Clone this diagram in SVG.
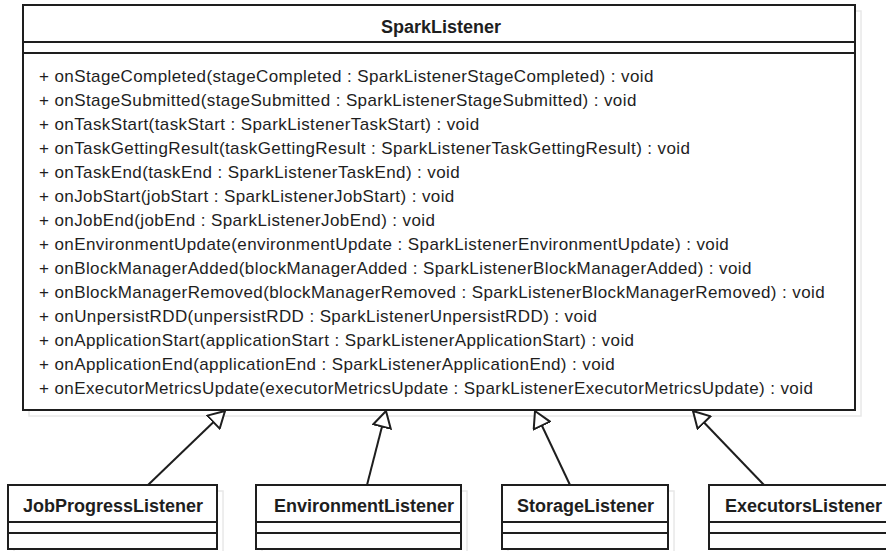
<svg xmlns="http://www.w3.org/2000/svg" width="886" height="551" viewBox="0 0 886 551">
  <style>
    .shadow { fill: none; stroke: #e8e8e8; stroke-width: 1.5; }
    .box { fill: #ffffff; stroke: #1e1e1e; stroke-width: 2; }
    .sep { stroke: #1e1e1e; stroke-width: 2; }
    .title { font-family: "Liberation Sans", Arial, sans-serif; font-weight: bold; font-size: 18px; fill: #1e1e1e; }
    .op { font-family: "Liberation Sans", Arial, sans-serif; font-size: 17px; letter-spacing: 0.4px; fill: #1e1e1e; }
    .edge { stroke: #1e1e1e; stroke-width: 2; fill: none; marker-end: url(#gen); }
  </style>
  <defs>
    <marker id="gen" viewBox="0 0 18 20" refX="17" refY="10" markerWidth="18" markerHeight="20" markerUnits="userSpaceOnUse" orient="auto">
      <path d="M1,1 L17,10 L1,19 Z" fill="#ffffff" stroke="#1e1e1e" stroke-width="2" stroke-linejoin="miter"/>
    </marker>
  </defs>
  <rect width="886" height="551" fill="#ffffff"/>

  <g id="SparkListener">
    <rect class="shadow" x="29" y="11" width="832" height="405"/>
    <rect class="box" x="23" y="5" width="832" height="405"/>
    <line class="sep" x1="23" y1="42" x2="855" y2="42"/>
    <line class="sep" x1="23" y1="53" x2="855" y2="53"/>
    <text class="title" x="441" y="32.5" text-anchor="middle">SparkListener</text>
    <text class="op" x="39" y="82">+ onStageCompleted(stageCompleted : SparkListenerStageCompleted) : void</text>
    <text class="op" x="39" y="106">+ onStageSubmitted(stageSubmitted : SparkListenerStageSubmitted) : void</text>
    <text class="op" x="39" y="130">+ onTaskStart(taskStart : SparkListenerTaskStart) : void</text>
    <text class="op" x="39" y="154">+ onTaskGettingResult(taskGettingResult : SparkListenerTaskGettingResult) : void</text>
    <text class="op" x="39" y="178">+ onTaskEnd(taskEnd : SparkListenerTaskEnd) : void</text>
    <text class="op" x="39" y="202">+ onJobStart(jobStart : SparkListenerJobStart) : void</text>
    <text class="op" x="39" y="226">+ onJobEnd(jobEnd : SparkListenerJobEnd) : void</text>
    <text class="op" x="39" y="250">+ onEnvironmentUpdate(environmentUpdate : SparkListenerEnvironmentUpdate) : void</text>
    <text class="op" x="39" y="274">+ onBlockManagerAdded(blockManagerAdded : SparkListenerBlockManagerAdded) : void</text>
    <text class="op" x="39" y="298">+ onBlockManagerRemoved(blockManagerRemoved : SparkListenerBlockManagerRemoved) : void</text>
    <text class="op" x="39" y="322">+ onUnpersistRDD(unpersistRDD : SparkListenerUnpersistRDD) : void</text>
    <text class="op" x="39" y="346">+ onApplicationStart(applicationStart : SparkListenerApplicationStart) : void</text>
    <text class="op" x="39" y="370">+ onApplicationEnd(applicationEnd : SparkListenerApplicationEnd) : void</text>
    <text class="op" x="39" y="394">+ onExecutorMetricsUpdate(executorMetricsUpdate : SparkListenerExecutorMetricsUpdate) : void</text>
  </g>

  <g id="JobProgressListener">
    <rect class="shadow" x="14" y="491" width="209" height="64"/>
    <rect class="box" x="8" y="485" width="209" height="64"/>
    <line class="sep" x1="8" y1="522" x2="217" y2="522"/>
    <line class="sep" x1="8" y1="533" x2="217" y2="533"/>
    <text class="title" x="23" y="512">JobProgressListener</text>
  </g>

  <g id="EnvironmentListener">
    <rect class="shadow" x="262" y="491" width="205" height="64"/>
    <rect class="box" x="256" y="485" width="205" height="64"/>
    <line class="sep" x1="256" y1="522" x2="461" y2="522"/>
    <line class="sep" x1="256" y1="533" x2="461" y2="533"/>
    <text class="title" x="274" y="512">EnvironmentListener</text>
  </g>

  <g id="StorageListener">
    <rect class="shadow" x="508" y="491" width="166" height="64"/>
    <rect class="box" x="502" y="485" width="166" height="64"/>
    <line class="sep" x1="502" y1="522" x2="668" y2="522"/>
    <line class="sep" x1="502" y1="533" x2="668" y2="533"/>
    <text class="title" x="517" y="512">StorageListener</text>
  </g>

  <g id="ExecutorsListener">
    <rect class="box" x="709" y="485" width="190" height="64"/>
    <line class="sep" x1="709" y1="522" x2="899" y2="522"/>
    <line class="sep" x1="709" y1="533" x2="899" y2="533"/>
    <text class="title" x="725" y="512">ExecutorsListener</text>
  </g>

  <g id="connectors">
    <line class="edge" x1="148" y1="485" x2="225" y2="411"/>
    <line class="edge" x1="367" y1="485" x2="386" y2="411"/>
    <line class="edge" x1="570" y1="485" x2="535" y2="411"/>
    <line class="edge" x1="764" y1="485" x2="693" y2="411"/>
  </g>
</svg>
